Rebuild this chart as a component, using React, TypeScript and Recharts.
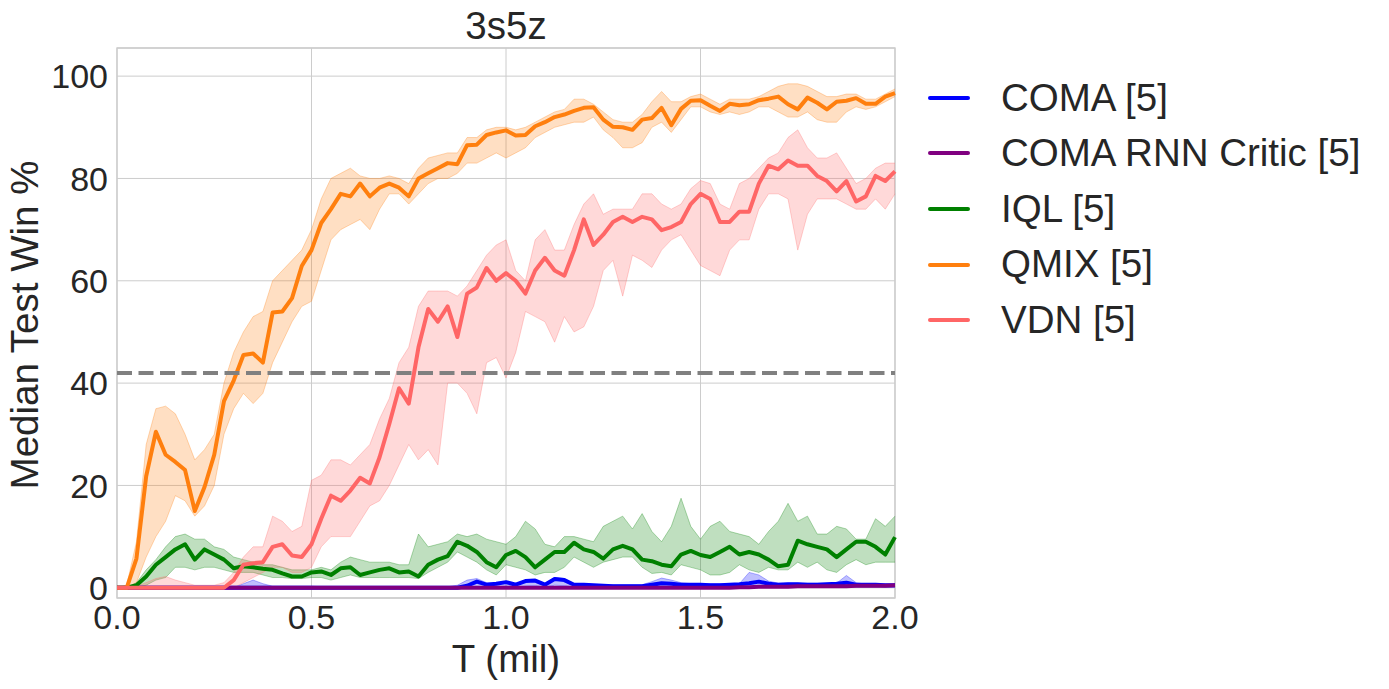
import React from "react";
import {
  ComposedChart,
  Line,
  Area,
  XAxis,
  YAxis,
  CartesianGrid,
  ReferenceLine,
  ReferenceArea,
} from "recharts";

// timesteps (millions)
const T = [
  0, 0.025, 0.05, 0.075, 0.1, 0.125, 0.15, 0.175, 0.2, 0.225,
  0.25, 0.275, 0.3, 0.325, 0.35, 0.375, 0.4, 0.425, 0.45, 0.475,
  0.5, 0.525, 0.55, 0.575, 0.6, 0.625, 0.65, 0.675, 0.7, 0.725,
  0.75, 0.775, 0.8, 0.825, 0.85, 0.875, 0.9, 0.925, 0.95, 0.975,
  1.0, 1.025, 1.05, 1.075, 1.1, 1.125, 1.15, 1.175, 1.2, 1.225,
  1.25, 1.275, 1.3, 1.325, 1.35, 1.375, 1.4, 1.425, 1.45, 1.475,
  1.5, 1.525, 1.55, 1.575, 1.6, 1.625, 1.65, 1.675, 1.7, 1.725,
  1.75, 1.775, 1.8, 1.825, 1.85, 1.875, 1.9, 1.925, 1.95, 1.975,
  2.0,
];

const coma = [
  0, 0, 0, 0, 0, 0, 0, 0, 0, 0,
  0, 0, 0, 0, 0, 0, 0, 0, 0, 0,
  0, 0, 0, 0, 0, 0, 0, 0, 0, 0,
  0, 0, 0, 0, 0, 0, 0.4, 1.2, 0.6, 0.8,
  1.1, 0.6, 1.3, 1.4, 0.6, 1.7, 1.5, 0.6, 0.6, 0.5,
  0.4, 0.3, 0.3, 0.3, 0.3, 0.6, 0.9, 0.8, 0.6, 0.6,
  0.6, 0.5, 0.5, 0.6, 0.7, 0.9, 1.2, 0.8, 0.6, 0.7,
  0.7, 0.6, 0.6, 0.7, 0.8, 1.0, 0.6, 0.6, 0.6, 0.5,
  0.5,
];
const comaLo = [
  0, 0, 0, 0, 0, 0, 0, 0, 0, 0,
  0, 0, 0, 0, 0, 0, 0, 0, 0, 0,
  0, 0, 0, 0, 0, 0, 0, 0, 0, 0,
  0, 0, 0, 0, 0, 0, 0, 0.2, 0.1, 0.2,
  0.3, 0.1, 0.3, 0.4, 0.1, 0.5, 0.4, 0.1, 0.1, 0.1,
  0, 0, 0, 0, 0, 0.1, 0.2, 0.2, 0.1, 0.1,
  0.1, 0.1, 0.1, 0.1, 0.1, 0.2, 0.3, 0.2, 0.1, 0.1,
  0.1, 0.1, 0.1, 0.1, 0.2, 0.2, 0.1, 0.1, 0.1, 0.1,
  0.1,
];
const comaHi = [
  0, 0, 0, 0, 0, 0, 0, 0, 0, 0,
  0, 0, 0, 0.8, 1.5, 0.8, 0.3, 0.3, 0.3, 0.3,
  0.3, 0.2, 0.2, 0.2, 0.2, 0.2, 0.2, 0.2, 0.2, 0.2,
  0.2, 0.2, 0.2, 0.2, 0.2, 0.5, 1.5, 1.8, 1, 1,
  1.2, 0.8, 1.5, 1.6, 0.8, 2, 1.8, 0.8, 0.6, 0.6,
  0.6, 0.6, 0.6, 0.6, 0.6, 1.2, 1.9, 1.5, 1, 0.8,
  0.8, 0.8, 0.8, 0.8, 0.8, 3, 2.5, 1.3, 0.9, 0.9,
  0.9, 0.9, 0.9, 0.9, 0.9, 2.4, 1, 0.7, 0.7, 0.7,
  0.7,
];

const comaRnn = [
  0, 0, 0, 0, 0, 0, 0, 0, 0, 0,
  0, 0, 0, 0, 0, 0, 0, 0, 0, 0,
  0, 0, 0, 0, 0, 0, 0, 0, 0, 0,
  0, 0, 0, 0, 0, 0, 0, 0, 0, 0,
  0, 0, 0, 0, 0, 0, 0, 0, 0, 0,
  0, 0, 0, 0, 0, 0, 0, 0, 0, 0,
  0, 0, 0, 0, 0.1, 0.1, 0.2, 0.2, 0.2, 0.2,
  0.3, 0.3, 0.3, 0.3, 0.3, 0.3, 0.4, 0.4, 0.4, 0.4,
  0.5,
];

const iql = [
  0, 0, 0.5, 2.2, 4.5, 6, 7.5, 8.5, 5.5, 7.5,
  6.5, 5.5, 3.8, 4.2, 4, 3.7, 3.5, 2.8, 2.2, 2.2,
  3, 3.2, 2.5, 3.8, 4, 2.5, 3, 3.5, 3.8, 3,
  3.2, 2.2, 4.5, 5.5, 6.2, 9, 8.2, 7, 5, 4,
  6.4, 7.2, 6, 4, 5.5, 7, 7, 8.8, 7.5, 7,
  5.7, 7.5, 8.2, 7.5, 5.5, 5.2, 4.5, 4.2, 6.5, 7.2,
  6.4, 6, 7, 8, 6.5, 7, 6.5, 5.5, 4.2, 4.5,
  9.2, 8.5, 8, 7.5, 6, 7.5, 9, 9, 8, 6.5,
  9.9,
];
const iqlLo = [
  0, 0, 0, 0.5, 1.5, 2, 4, 4, 3.5, 4,
  4, 3.5, 3, 3, 3, 2.5, 2, 2, 1.8, 1.8,
  2, 2, 1.5, 2, 2.5, 2, 2, 2, 2, 2,
  2, 1.8, 3, 4, 5, 7, 6, 5, 3.5, 2.5,
  4.5, 4, 3.5, 2.5, 3, 3, 4, 6, 5, 4,
  5, 5.5, 6, 6, 4, 2.8, 3, 2.5, 4.5, 4,
  3.5, 2.5, 2.5, 3, 4.5, 3.5, 3, 4, 3.5, 3.5,
  5, 4, 5, 3.5, 3, 4.5, 5.5, 4.5, 5, 5,
  5,
];
const iqlHi = [
  0, 0, 1, 3.5, 5.5, 8, 10, 10.5, 9.5, 9.5,
  8, 7.5, 6, 5.5, 5, 4.5, 4.5, 4, 3.5, 3.5,
  3.5, 4, 3.5, 5, 6, 5.5, 5, 5, 5, 4.5,
  4.5, 10.5, 8, 8.5, 9, 10.5, 10, 10.5, 9.5, 9,
  8.5, 10, 13, 11.5, 8.5, 8, 10, 10, 9.5, 9,
  12, 13, 14, 11.5, 14.5, 11, 9, 12, 17.5, 12,
  9.5, 12, 13, 11, 10.5, 10, 8.5, 11, 13, 16.5,
  13, 14, 10.5, 10.5, 12, 11.5, 9.5, 9.5, 13.5, 12,
  14,
];

const qmix = [
  0, 0, 5.7, 21.8, 30.5, 26, 24.6, 23, 15, 19.7,
  26, 36.5, 40.5, 45.5, 45.8, 44, 53.8, 54, 56.6, 62.9,
  66, 71.3, 74, 77, 76.5, 79, 76.5, 78.2, 79, 78.2,
  76.5, 80, 81, 82, 83, 82.8, 86.5, 86.6, 88.5, 89,
  89.4, 88.4, 88.5, 90.2, 91, 92, 92.5, 93.2, 93.8, 93.9,
  91.5, 90.1, 90, 89.5, 91.5, 91.8, 93.8, 90.4, 93.6, 95.2,
  95.3, 94.2, 93.2, 94.6, 94.3, 94.5, 95.3, 95.6, 96, 94.5,
  93.5, 95.8, 94.8, 93.5, 95, 95.2, 95.7, 94.6, 94.6, 96,
  96.7,
];
const qmixLo = [
  0, 0, 1, 6, 10, 13, 18, 17, 14, 16,
  20, 30, 35, 38, 36, 38, 44, 48, 52, 55,
  56, 62, 68, 70, 71, 72, 70, 74, 77, 77,
  75, 77, 79, 80, 80, 81, 83, 83, 84, 85,
  84, 85, 86, 88, 89, 90, 90.5, 91, 91, 92,
  89.5, 88, 86, 86, 87, 90, 91, 89, 91.5, 94,
  94, 93, 92.5, 93, 92.5, 93, 94, 94, 93, 92,
  92, 93, 91.5, 91, 91, 93, 94, 93.5, 94, 95,
  96,
];
const qmixHi = [
  0, 0.5, 9, 28, 35, 35.5, 34, 30, 25, 27,
  30, 40, 46, 50, 53, 54, 60, 62, 64, 66,
  70, 76, 80, 81, 82, 80.5, 80, 80, 80.5, 80,
  79, 82, 84, 84.5, 85, 85, 88, 88, 89.5, 90,
  90, 89.5, 90, 91, 92, 93, 93.5, 95.5, 95.5, 94.5,
  93, 91.5, 91, 91, 92.5, 95, 97, 95, 95, 96,
  96.5, 95.5, 94.5, 95.5, 95.5, 95.5, 96, 97, 98, 98.5,
  98.5, 98, 97, 96, 96, 96.5, 96.5, 95.5, 95.5, 96.5,
  97.5,
];

const vdn = [
  0, 0, 0, 0, 0, 0, 0, 0, 0, 0,
  0, 0, 1.5, 4.5, 4.8, 5, 8, 8.5, 6.3, 6,
  8.5, 13.5, 18, 17, 19, 21.5, 20.4, 25.5, 32, 39,
  36, 47, 54.5, 52, 55, 49, 57.5, 58.7, 62.5, 60,
  61.5, 60, 57.5, 62, 64.5, 62, 61, 66, 72, 67,
  69, 71.5, 72.5, 71.5, 72.5, 72, 69.9, 70.5, 71.5, 75,
  77, 76, 71.5, 71.5, 73.5, 73.5, 79, 82.5, 81.8, 83.5,
  82.5, 82.5, 80.5, 79.5, 77.5, 79.5, 75.5, 76.5, 80.5, 79.5,
  81.4,
];
const vdnLo = [
  0, 0, 0, 0, 0, 0, 0, 0, 0, 0,
  0, 0, 0, 1, 2, 3, 4, 4, 3, 3,
  4, 8, 10, 10, 10, 13, 16, 17, 20, 24,
  28, 25, 27, 24, 40, 40, 38, 34, 44, 45,
  41, 46, 54, 53, 52, 48, 53, 50, 51, 55,
  62, 64, 57, 65, 64, 62.6, 66, 68, 69, 66,
  63, 62, 61, 66, 68, 68, 74, 77, 77, 76,
  66, 73, 76, 76, 76, 75, 74, 74, 76, 74,
  77,
];
const vdnHi = [
  0, 0, 0.3, 1, 1.8, 2.2, 1.5, 1, 0.5, 0.5,
  0.5, 1, 3, 6, 8, 8, 14, 13, 11, 12,
  21, 22, 25, 25, 24, 26, 28, 33, 37, 44,
  47, 55, 58, 58, 58, 57, 59, 62, 65, 67,
  68, 62, 60, 68, 70, 66, 66, 71, 75, 77,
  73, 74, 74, 74, 77, 77, 75, 74, 75, 78,
  79.6, 79, 75, 74, 79, 80, 82, 84, 85, 88,
  89.5, 86, 84, 84, 85, 82, 79, 80, 82, 83,
  83,
];

const xTicks = [0, 0.5, 1, 1.5, 2];
const yTicks = [0, 20, 40, 60, 80, 100];
const heuristicLevel = 42;

const C_COMA = "#0000ff";
const C_RNN = "#800080";
const C_IQL = "#008000";
const C_QMIX = "#ff7f0e";
const C_VDN = "#ff6666";

const legendItems = [
  { name: "COMA [5]", color: C_COMA },
  { name: "COMA RNN Critic [5]", color: C_RNN },
  { name: "IQL [5]", color: C_IQL },
  { name: "QMIX [5]", color: C_QMIX },
  { name: "VDN [5]", color: C_VDN },
];

const FONT = '"Liberation Sans", Arial, sans-serif';
const TEXT = "#262626";

const rows = T.map((t, i) => ({
  t,
  coma: coma[i],
  comaBand: [comaLo[i], comaHi[i]],
  rnn: comaRnn[i],
  iql: iql[i],
  iqlBand: [iqlLo[i], iqlHi[i]],
  qmix: qmix[i],
  qmixBand: [qmixLo[i], qmixHi[i]],
  vdn: vdn[i],
  vdnBand: [vdnLo[i], vdnHi[i]],
}));

function band(key: string, color: string) {
  return (
    <Area
      key={key}
      type="linear"
      dataKey={key}
      stroke={color}
      strokeOpacity={0.3}
      strokeWidth={1}
      fill={color}
      fillOpacity={0.25}
      dot={false}
      activeDot={false}
      isAnimationActive={false}
    />
  );
}

function line(key: string, color: string) {
  return (
    <Line
      key={key}
      type="linear"
      dataKey={key}
      stroke={color}
      strokeWidth={4}
      strokeLinejoin="round"
      dot={false}
      activeDot={false}
      isAnimationActive={false}
    />
  );
}

export default function App() {
  return (
    <div style={{ position: "relative", width: 1381, height: 681, fontFamily: FONT }}>
      <ComposedChart
        width={1381}
        height={681}
        data={rows}
        margin={{ top: 40, right: 494, bottom: 17, left: 29 }}
        style={{ fontFamily: FONT }}
      >
        <CartesianGrid stroke="#cccccc" strokeWidth={1} />
        <XAxis
          dataKey="t"
          type="number"
          domain={[0, 2]}
          ticks={xTicks}
          interval={0}
          tickFormatter={(v: number) => v.toFixed(1)}
          tick={{ fontSize: 34, fill: TEXT }}
          tickLine={false}
          axisLine={false}
          tickSize={0}
          tickMargin={7}
          height={74}
          label={{
            content: () => (
              <text x={498} y={664} textAnchor="middle" fontSize={38.5} fill={TEXT}>
                T (mil)
              </text>
            ),
          }}
        />
        <YAxis
          type="number"
          domain={[-2, 105.5]}
          ticks={yTicks}
          interval={0}
          allowDataOverflow
          tick={{ fontSize: 34, fill: TEXT }}
          tickLine={false}
          axisLine={false}
          tickSize={0}
          tickMargin={9}
          width={80}
          label={{
            content: () => (
              <text
                transform="translate(30,317) rotate(-90)"
                textAnchor="middle"
                fontSize={38.5}
                fill={TEXT}
              >
                Median Test Win %
              </text>
            ),
          }}
        />
        <ReferenceArea
          x1={0}
          x2={2}
          y1={-2}
          y2={105.5}
          fill="none"
          fillOpacity={0}
          stroke="#cccccc"
          strokeWidth={1.3}
          label={{
            content: () => (
              <text x={498} y={31} textAnchor="middle" fontSize={38.5} fill={TEXT}>
                3s5z
              </text>
            ),
          }}
        />
        {band("comaBand", C_COMA)}
        {line("coma", C_COMA)}
        {line("rnn", C_RNN)}
        {band("iqlBand", C_IQL)}
        {line("iql", C_IQL)}
        {band("qmixBand", C_QMIX)}
        {line("qmix", C_QMIX)}
        {band("vdnBand", C_VDN)}
        {line("vdn", C_VDN)}
        <ReferenceLine
          y={heuristicLevel}
          stroke="#808080"
          strokeWidth={4}
          strokeDasharray="15 6.5"
        />
      </ComposedChart>
      <div style={{ position: "absolute", left: 920, top: 62 }}>
        {legendItems.map((it) => (
          <div
            key={it.name}
            style={{ display: "flex", alignItems: "center", height: 55.6 }}
          >
            <div style={{ width: 42, height: 4, background: it.color, borderRadius: 2 }} />
            <div style={{ marginLeft: 31, fontSize: 38.5, color: TEXT, lineHeight: 1 }}>
              {it.name}
            </div>
          </div>
        ))}
      </div>
    </div>
  );
}
